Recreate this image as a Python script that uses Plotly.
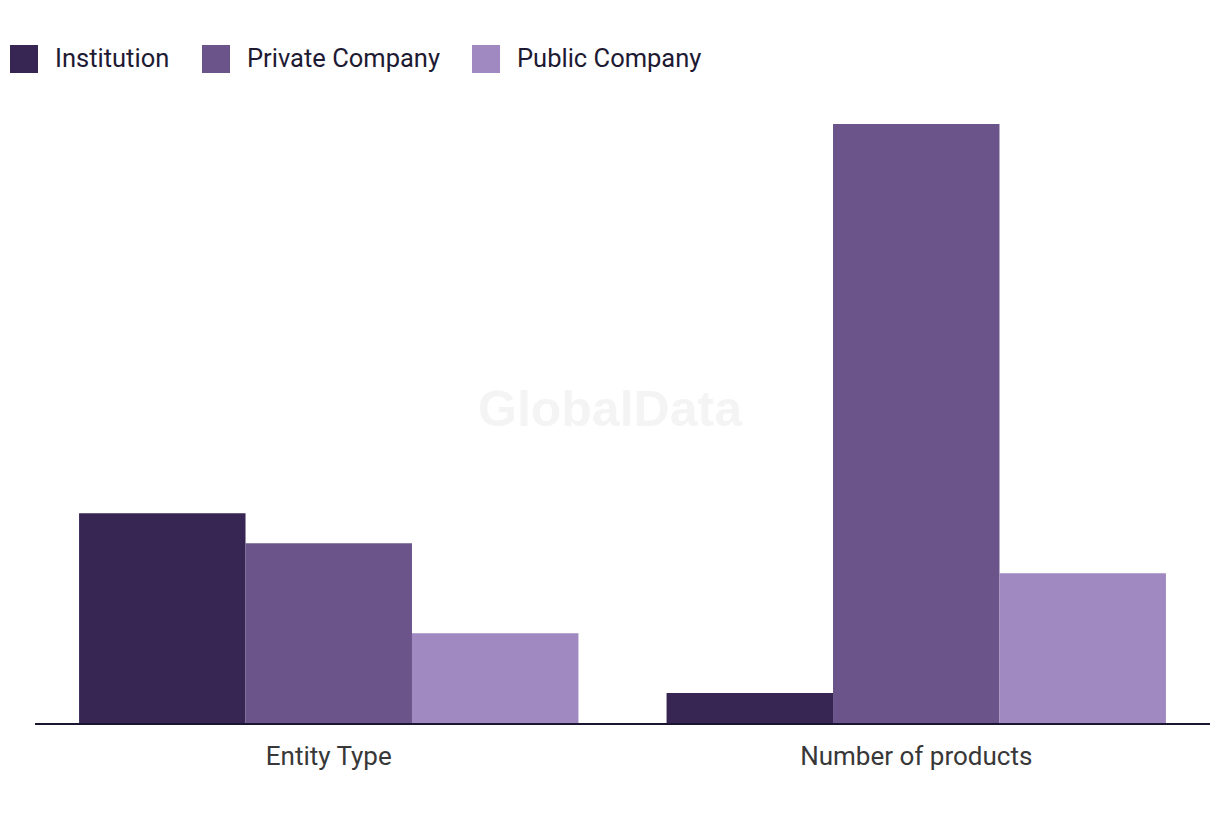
import plotly.graph_objects as go

categories = ["Entity Type", "Number of products"]
series_names = ["Institution", "Private Company", "Public Company"]
institution = [7, 1]
private_company = [6, 20]
public_company = [3, 5]
colors = ["#372554", "#6a5489", "#a088c1"]

values = [institution, private_company, public_company]

# page offset of the plot (body margin) is 8px; plot area in screenshot: x 35..1210, y 100..723
L, T, W, H = 27, 92, 1175, 623
OX, OY = 35, 100  # screenshot coords of plot area top-left

def px(x):
    return (x - OX) / W

def py(y):
    return (OY + H - y) / H

fig = go.Figure()
for name, vals, col in zip(series_names, values, colors):
    fig.add_trace(go.Bar(x=categories, y=vals, name=name, marker=dict(color=col, line=dict(width=0)),
                         showlegend=False, hoverinfo="x+y+name"))

# custom legend (large square swatches)
leg_x = [10, 202, 472]
for name, col, x0 in zip(series_names, colors, leg_x):
    fig.add_shape(type="rect", xref="paper", yref="paper",
                  x0=px(x0), x1=px(x0 + 28), y0=py(73), y1=py(45),
                  fillcolor=col, line=dict(width=0))
    fig.add_annotation(text=name, xref="paper", yref="paper",
                       x=px(x0 + 43), y=py(58),
                       xanchor="left", yanchor="middle", showarrow=False,
                       font=dict(family="Roboto, Arial, sans-serif", size=25.5, color="#1e1a33"))

# watermark
fig.add_annotation(text="<b>GlobalData</b>", xref="paper", yref="paper",
                   x=px(610), y=py(409), showarrow=False,
                   font=dict(family="Liberation Sans, Arial, sans-serif", size=50, color="#f4f4f4"))

fig.update_layout(
    width=1220, height=820,
    margin=dict(l=L, r=1220 - L - W, t=T, b=820 - T - H),
    paper_bgcolor="white", plot_bgcolor="white",
    barmode="group", bargap=0.15, bargroupgap=0,
    xaxis=dict(showline=True, linecolor="#1a1530", linewidth=2, ticks="",
               ticklabelstandoff=9,
               tickfont=dict(family="Roboto, Arial, sans-serif", size=26, color="#383838"),
               showgrid=False),
    yaxis=dict(range=[0, 20.8], visible=False, showgrid=False, zeroline=False),
)

fig.write_html("out.html")
